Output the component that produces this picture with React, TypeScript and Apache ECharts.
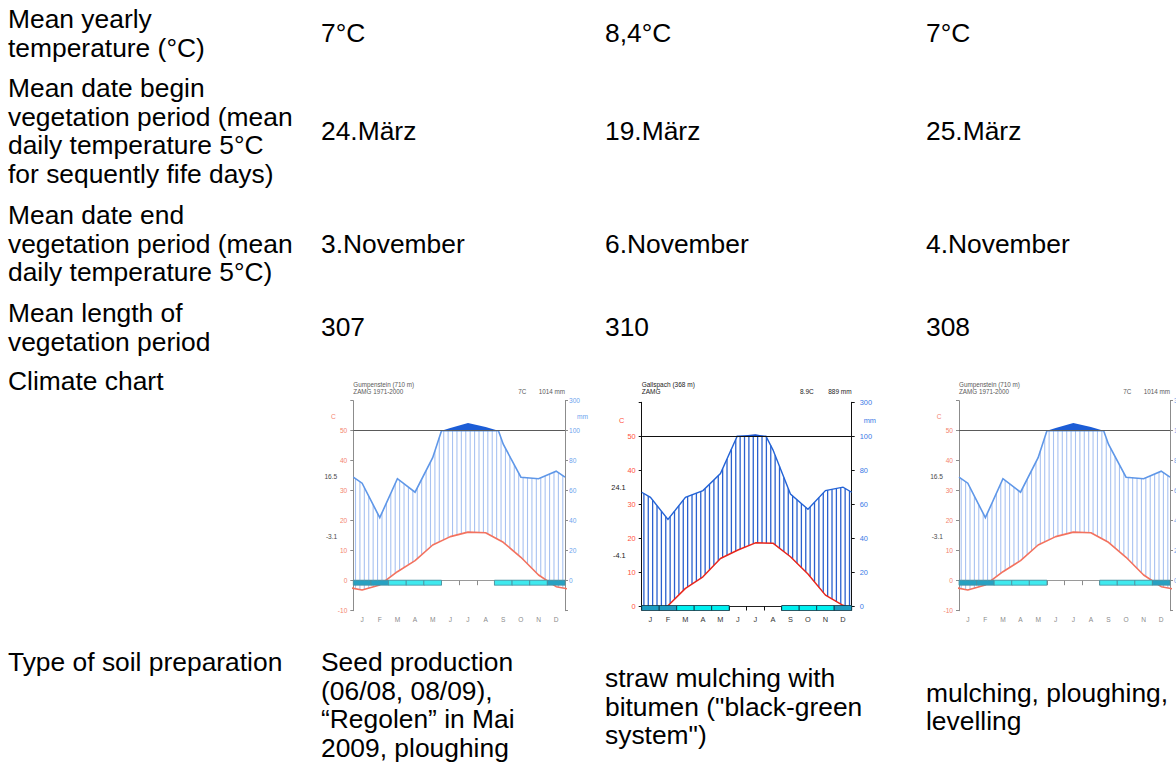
import React, { useEffect, useRef } from "react";
import * as echarts from "echarts";

// ---------------- data ----------------
const MONTHS = ["J", "F", "M", "A", "M", "J", "J", "A", "S", "O", "N", "D"];
// Gumpenstein (710 m), ZAMG 1971-2000
const GUMP_TEMP = [-3.1, -1.4, 3.0, 6.7, 11.9, 14.7, 16.2, 16.0, 12.8, 7.8, 1.9, -2.0];
const GUMP_PREC = [65, 42, 68, 59, 82, 118, 152, 124, 91, 69, 68, 73];
// Gallspach (368 m), ZAMG
const GALL_TEMP = [-1.5, 0.1, 5.2, 8.6, 14.0, 16.5, 18.6, 18.5, 14.5, 9.4, 3.2, 0.2];
const GALL_PREC = [64, 51, 64, 68, 78, 101, 112, 92, 66, 57, 68, 70];
// frost: 2 = sure frost, 1 = probable frost, 0 = none
const FROST_GUMP = [2, 2, 1, 1, 1, 0, 0, 0, 1, 1, 1, 2];
const FROST_GALL = [2, 2, 1, 1, 1, 0, 0, 0, 1, 1, 1, 2];

const STATION_NAMES = ["Gumpenstein (710 m)", "Gallspach (368 m)", "Gumpenstein (710 m)"];
const STATION_SOURCES = ["ZAMG 1971-2000", "ZAMG", "ZAMG 1971-2000"];
const STATION_MEAN_T = ["7C", "8.9C", "7C"];
const STATION_SUM_P = ["1014 mm", "889 mm", "1014 mm"];
const STATION_MAX_T = ["16.5", "24.1", "16.5"];
const STATION_MIN_T = ["-3.1", "-4.1", "-3.1"];

const ROW_LABELS: string[][] = [
  ["Mean yearly", "temperature (°C)"],
  ["Mean date begin", "vegetation period (mean", "daily temperature 5°C", "for sequently fife days)"],
  ["Mean date end", "vegetation period (mean", "daily temperature 5°C)"],
  ["Mean length of", "vegetation period"],
  ["Climate chart"],
  ["Type of soil preparation"],
];
const MEAN_TEMP = ["7°C", "8,4°C", "7°C"];
const BEGIN_DATE = ["24.März", "19.März", "25.März"];
const END_DATE = ["3.November", "6.November", "4.November"];
const VEG_LENGTH = ["307", "310", "308"];
const SOIL_PREP: string[][] = [
  ["Seed production", "(06/08, 08/09),", "“Regolen” in Mai", "2009, ploughing"],
  ["straw mulching with", "bitumen (\"black-green", "system\")"],
  ["mulching, ploughing,", "levelling"],
];

// ---------------- layout ----------------
const FONT = "'Liberation Sans', Arial, Helvetica, sans-serif";
const FS = 26.4;
const LH = 28.5;
const ROW_TOP = [19, 88, 215, 313, 381, 662];
const COL_X = [8, 321, 605, 926];

const CHART_LAYOUT = [
  { left: 353.3, top: 400.7, width: 211.7, height: 210, yMin: -10, titleY: [384, 391.3], meanDx: -46.7 },
  { left: 641.7, top: 402.3, width: 210, height: 203.7, yMin: 0, titleY: [384, 391.7], meanDx: -51.7 },
  { left: 959, top: 400.7, width: 211, height: 210, yMin: -10, titleY: [384, 391.3], meanDx: -46.7 },
];

const FADED = {
  axis: "#8c8c8c", zero: "#9a9a9a", left: "#f4846f", right: "#6ea3ee", temp: "#f3725f", tempW: 1.6,
  prec: "#5f97e8", precW: 1.6, hatch: "#a8c2f1", hatchW: 1.1, dark: "#1c5dd6", ref: "#5a5a5a",
  month: "#8a8a8a", title: "#5a5a5a", extreme: "#4a4a4a", cyan: "#3fe9ee", frostDark: "#27a1c2",
  frostBorder: "#4b8f9e", fs: 6.6, titleFs: 6.3, monthMargin: 5, leftMargin: 6, rightMargin: 4,
};
const SHARP = {
  axis: "#111", zero: "#222", left: "#ff4f3c", right: "#3a7ae6", temp: "#e8261c", tempW: 1.5,
  prec: "#2363d6", precW: 1.4, hatch: "#2a61cf", hatchW: 1.3, dark: "#0b42c4", ref: "#111",
  month: "#333", title: "#222", extreme: "#222", cyan: "#00f0f0", frostDark: "#1c9dc2",
  frostBorder: "#0e3442", fs: 7.4, titleFs: 6.5, monthMargin: 10, leftMargin: 6, rightMargin: 8,
};

const HATCH_COUNT = 48;

// ---------------- helpers ----------------
type Pt = [number, number];
const WX = [-0.5, ...MONTHS.map((_, i) => i + 0.5), 12.5];
const wrapY = (v: number[]) => [v[v.length - 1], ...v, v[0]];
const precToScale = (p: number) => (p <= 100 ? p / 2 : 50 + (p - 100) / 20);

function interp(xs: number[], ys: number[], x: number) {
  for (let i = 0; i < xs.length - 1; i++) {
    if (x >= xs[i] && x <= xs[i + 1]) {
      const f = (x - xs[i]) / (xs[i + 1] - xs[i]);
      return ys[i] + f * (ys[i + 1] - ys[i]);
    }
  }
  return ys[ys.length - 1];
}

function cappedPath(xs: number[], ys: number[], cap: number, x0: number, x1: number): Pt[] {
  const pts: Pt[] = [];
  const push = (x: number, y: number) => pts.push([x, Math.min(y, cap)]);
  push(x0, interp(xs, ys, x0));
  for (let i = 0; i < xs.length - 1; i++) {
    const xa = xs[i], xb = xs[i + 1], ya = ys[i], yb = ys[i + 1];
    if ((ya - cap) * (yb - cap) < 0) {
      const xc = xa + ((cap - ya) / (yb - ya)) * (xb - xa);
      if (xc > x0 && xc < x1) push(xc, cap);
    }
    if (xb > x0 && xb < x1) push(xb, yb);
  }
  push(x1, interp(xs, ys, x1));
  return pts;
}

// polygons above `level`: crossings taken from raw curve, heights from compressed curve
function abovePieces(xs: number[], raw: number[], comp: number[], level: number): Pt[][] {
  const pieces: Pt[][] = [];
  let cur: Pt[] | null = null;
  for (let i = 0; i < xs.length - 1; i++) {
    const a0 = raw[i] > level, a1 = raw[i + 1] > level;
    if (a0 && !cur) cur = [[xs[i], level], [xs[i], comp[i]]];
    const xc = xs[i] + ((level - raw[i]) / (raw[i + 1] - raw[i])) * (xs[i + 1] - xs[i]);
    if (a0 && a1 && cur) cur.push([xs[i + 1], comp[i + 1]]);
    else if (a0 && !a1 && cur) {
      cur.push([xc, level]);
      pieces.push(cur);
      cur = null;
    } else if (!a0 && a1) cur = [[xc, level], [xs[i + 1], comp[i + 1]]];
  }
  if (cur) {
    cur.push([xs[xs.length - 1], level]);
    pieces.push(cur);
  }
  return pieces;
}

function txt(text: string, x: number, y: number, o: any = {}) {
  return {
    type: "text",
    x,
    y,
    silent: true,
    z: 10,
    style: {
      text,
      fill: o.fill ?? "#000",
      fontSize: o.fs ?? FS,
      fontFamily: FONT,
      textAlign: o.align ?? "left",
      textVerticalAlign: "middle",
      align: o.align ?? "left",
      verticalAlign: "middle",
    },
  };
}

// ---------------- option ----------------
function buildOption() {
  const grid: any[] = [];
  const xAxis: any[] = [];
  const yAxis: any[] = [];
  const series: any[] = [];
  const graphic: any[] = [];

  // table text
  ROW_LABELS.forEach((lines, r) => {
    lines.forEach((s, i) => graphic.push(txt(s, COL_X[0], ROW_TOP[r] + i * LH)));
  });
  const valueRows = [MEAN_TEMP, BEGIN_DATE, END_DATE, VEG_LENGTH];
  valueRows.forEach((vals, r) => {
    const mid = ROW_TOP[r] + ((ROW_LABELS[r].length - 1) * LH) / 2;
    vals.forEach((v, c) => graphic.push(txt(v, COL_X[c + 1], mid)));
  });
  const soilMid = ROW_TOP[5] + 1.5 * LH;
  SOIL_PREP.forEach((lines, c) => {
    const start = soilMid - ((lines.length - 1) * LH) / 2 + (lines.length === 4 ? 0 : 2);
    lines.forEach((s, i) => graphic.push(txt(s, COL_X[c + 1], start + i * LH)));
  });

  const charts = [
    { temps: GUMP_TEMP, precs: GUMP_PREC, frost: FROST_GUMP, st: FADED },
    { temps: GALL_TEMP, precs: GALL_PREC, frost: FROST_GALL, st: SHARP },
    { temps: GUMP_TEMP, precs: GUMP_PREC, frost: FROST_GUMP, st: FADED },
  ];

  charts.forEach((ch, g) => {
    const lay = CHART_LAYOUT[g];
    const st = ch.st;
    const L = lay.left, R = lay.left + lay.width;
    const yPix = (v: number) => lay.top + ((60 - v) / (60 - lay.yMin)) * lay.height;

    grid.push({ left: L, top: lay.top, width: lay.width, height: lay.height, containLabel: false, outerBoundsMode: "none" });

    xAxis.push({
      type: "value", gridIndex: g, min: 0, max: 12, interval: 1,
      axisLine: { show: true, onZero: true, lineStyle: { color: st.zero, width: 1 } },
      axisTick: { show: true, length: 4.5, lineStyle: { color: st.axis, width: 1 } },
      axisLabel: { show: false }, splitLine: { show: false },
    });
    xAxis.push({
      type: "category", gridIndex: g, data: MONTHS, position: "bottom", boundaryGap: true,
      axisLine: { show: false, onZero: false }, axisTick: { show: false },
      axisLabel: { interval: 0, color: st.month, fontSize: st.fs, margin: st.monthMargin, fontFamily: FONT },
      splitLine: { show: false },
    });
    yAxis.push({
      type: "value", gridIndex: g, position: "left", min: lay.yMin, max: 60, interval: 10,
      axisLine: { show: true, onZero: false, lineStyle: { color: st.axis, width: 1 } },
      axisTick: { show: true, length: 3, lineStyle: { color: st.axis, width: 1 } },
      axisLabel: { color: st.left, fontSize: st.fs, margin: st.leftMargin, fontFamily: FONT, formatter: (v: number) => (v === 60 ? "" : String(v)) },
      splitLine: { show: false },
    });
    yAxis.push({
      type: "value", gridIndex: g, position: "right", min: lay.yMin * 2, max: 120, interval: 20,
      axisLine: { show: true, onZero: false, lineStyle: { color: st.axis, width: 1 } },
      axisTick: { show: true, length: 3, lineStyle: { color: st.axis, width: 1 } },
      axisLabel: { color: st.right, fontSize: st.fs, margin: st.rightMargin, fontFamily: FONT, formatter: (v: number) => (v === 120 ? "300" : v < 0 ? "" : String(v)) },
      splitLine: { show: false },
    });

    const tY = wrapY(ch.temps);
    const rawY = wrapY(ch.precs.map((p) => p / 2));
    const compY = wrapY(ch.precs.map(precToScale));

    series.push({
      type: "custom", xAxisIndex: 2 * g, yAxisIndex: 2 * g, data: [[0, 0]], z: 2, silent: true,
      renderItem: (_p: any, api: any) => {
        const children: any[] = [];
        for (let k = 0; k < HATCH_COUNT; k++) {
          const x = ((k + 0.5) * 12) / HATCH_COUNT;
          const t = Math.max(interp(WX, tY, x), lay.yMin);
          const p = Math.min(interp(WX, rawY, x), 50);
          if (p > t) {
            const a = api.coord([x, t]);
            const b = api.coord([x, p]);
            children.push({ type: "line", shape: { x1: a[0], y1: a[1], x2: b[0], y2: b[1] }, style: { stroke: st.hatch, lineWidth: st.hatchW } });
          }
        }
        abovePieces(WX, rawY, compY, 50).forEach((piece) => {
          children.push({ type: "polygon", shape: { points: piece.map((pt) => api.coord(pt)) }, style: { fill: st.dark } });
        });
        const line = cappedPath(WX, rawY, 50, 0, 12).map((pt) => api.coord(pt));
        children.push({ type: "polyline", shape: { points: line }, style: { stroke: st.prec, lineWidth: st.precW, fill: null } });
        return { type: "group", children };
      },
    });

    series.push({
      type: "line", xAxisIndex: 2 * g, yAxisIndex: 2 * g, z: 3, silent: true, clip: true,
      data: WX.map((x, i) => [x, tY[i]]), showSymbol: false, symbol: "none",
      lineStyle: { color: st.temp, width: st.tempW },
      markLine: {
        silent: true, symbol: ["none", "none"], label: { show: false },
        lineStyle: { color: st.ref, width: 1, type: "solid" },
        data: [{ yAxis: 50 }],
      },
    });

    series.push({
      type: "custom", xAxisIndex: 2 * g, yAxisIndex: 2 * g, z: 5, silent: true,
      data: ch.frost.map((c, i) => [i, c]),
      renderItem: (_p: any, api: any) => {
        const i = api.value(0);
        const c = api.value(1);
        if (!c) return null;
        const p0 = api.coord([i, 0]);
        const p1 = api.coord([i + 1, 0]);
        return {
          type: "rect",
          shape: { x: p0[0], y: p0[1] - 0.5, width: p1[0] - p0[0], height: 5 },
          style: { fill: c === 2 ? st.frostDark : st.cyan, stroke: st.frostBorder, lineWidth: 0.8 },
        };
      },
    });

    // annotations
    graphic.push(txt(STATION_NAMES[g], L, lay.titleY[0], { fs: st.titleFs, fill: st.title }));
    graphic.push(txt(STATION_SOURCES[g], L, lay.titleY[1], { fs: st.titleFs, fill: st.title }));
    graphic.push(txt(STATION_MEAN_T[g], R + lay.meanDx, lay.titleY[1], { fs: st.titleFs, fill: st.title }));
    graphic.push(txt(STATION_SUM_P[g], R, lay.titleY[1], { fs: st.titleFs, fill: st.title, align: "right" }));
    graphic.push(txt("C", L - 20, yPix(54.6), { fs: st.fs, fill: st.left, align: "center" }));
    graphic.push(txt("mm", R + 12, yPix(54.6), { fs: st.fs, fill: st.right }));
    graphic.push(txt(STATION_MAX_T[g], L - 16, yPix(34.8), { fs: st.fs, fill: st.extreme, align: "right" }));
    graphic.push(txt(STATION_MIN_T[g], L - 16, yPix(14.8), { fs: st.fs, fill: st.extreme, align: "right" }));
  });

  return {
    animation: false,
    backgroundColor: "#ffffff",
    textStyle: { fontFamily: FONT },
    grid,
    xAxis,
    yAxis,
    series,
    graphic: { elements: graphic },
  };
}

export default function App() {
  const ref = useRef<HTMLDivElement>(null);
  useEffect(() => {
    if (!ref.current) return;
    const chart = echarts.init(ref.current, undefined, { renderer: "svg" });
    chart.setOption(buildOption() as any);
    return () => chart.dispose();
  }, []);
  return (
    <div
      ref={ref}
      style={{ position: "absolute", left: 0, top: 0, width: 1176, height: 771, background: "#fff" }}
    />
  );
}
